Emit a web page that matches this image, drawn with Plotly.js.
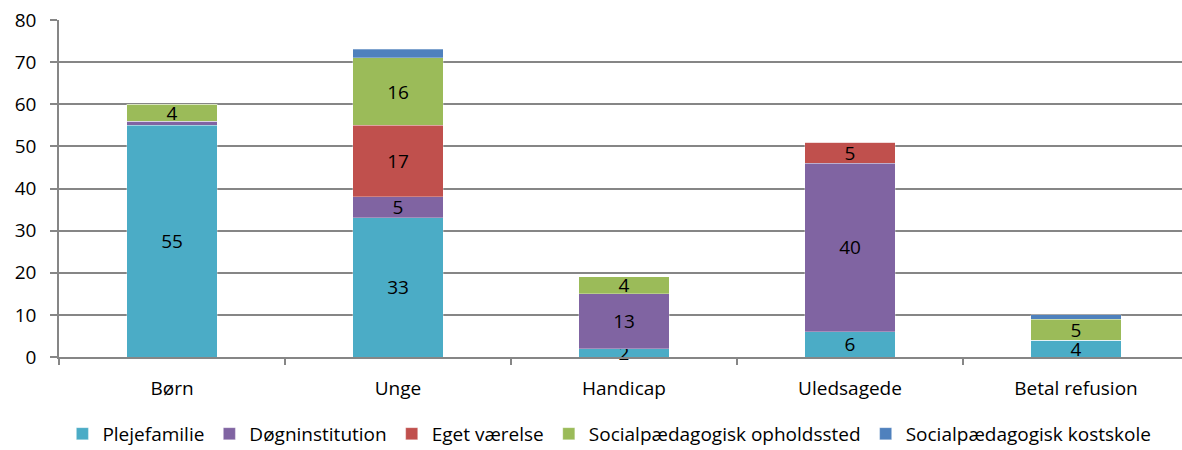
<!DOCTYPE html>
<html><head><meta charset="utf-8">
<script src="https://cdn.plot.ly/plotly-3.0.1.min.js"></script>
<style>html,body{margin:0;padding:0;overflow:hidden;background:#fff}</style>
</head><body><div id="chart"></div>
<script>
const categories = ["Børn", "Unge", "Handicap", "Uledsagede", "Betal refusion"];
const seriesNames = ["Plejefamilie", "Døgninstitution", "Eget værelse", "Socialpædagogisk opholdssted", "Socialpædagogisk kostskole"];
const plejefamilie = [55, 33, 2, 6, 4];
const dognInstitution = [1, 5, 13, 40, 0];
const egetVaerelse = [0, 17, 0, 5, 0];
const opholdssted = [4, 16, 4, 0, 5];
const kostskole = [0, 2, 0, 0, 1];
const colors = ["#4BACC6", "#8064A2", "#C0504D", "#9BBB59", "#4F81BD"];
const showLabels = [true, true, true, true, false];
const yTicks = [0, 10, 20, 30, 40, 50, 60, 70, 80];

const allSeries = [plejefamilie, dognInstitution, egetVaerelse, opholdssted, kostskole];
const font = "'Open Sans', sans-serif";
const traces = allSeries.map((vals, i) => ({
  type: 'bar',
  name: seriesNames[i],
  x: categories,
  y: vals,
  text: vals.map(v => (showLabels[i] && v >= 2) ? String(v) : ''),
  textposition: 'inside',
  insidetextanchor: 'middle',
  constraintext: 'none',
  cliponaxis: false,
  textangle: 0,
  textfont: {family: font, size: 19, color: '#000'},
  marker: {color: colors[i], line: {width: 0.8, color: 'rgba(255,255,255,0.35)'}},
  hoverinfo: 'x+y+name'
}));

const layout = {
  width: 1190, height: 450,
  margin: {l: 59, r: 1, t: 20, b: 93, autoexpand: false},
  barmode: 'stack',
  bargap: 0.6,
  paper_bgcolor: '#fff', plot_bgcolor: '#fff',
  font: {family: font, size: 19, color: '#000'},
  showlegend: true,
  legend: {orientation: 'h', x: 0.003, xanchor: 'left', y: -0.228, yanchor: 'middle',
    font: {family: font, size: 19, color: '#000'}, itemwidth: 30, traceorder: 'normal',
    bgcolor: 'rgba(0,0,0,0)'},
  xaxis: {
    type: 'category', range: [-0.5, 4.5], automargin: false,
    showline: true, linecolor: '#868686', linewidth: 1.5,
    ticks: 'outside', ticklen: 6, tickcolor: '#868686', tickwidth: 1.5,
    tickson: 'boundaries', showgrid: false, ticklabelstandoff: 13,
    tickfont: {family: font, size: 19, color: '#000'}
  },
  yaxis: {
    range: [0, 80], tickvals: yTicks, ticktext: yTicks.map(String), automargin: false,
    showline: true, linecolor: '#868686', linewidth: 1.5,
    ticks: 'outside', ticklen: 7, tickcolor: '#868686', tickwidth: 1.5,
    showgrid: true, gridcolor: '#868686', gridwidth: 1.5, zeroline: false,
    ticklabelstandoff: 10,
    tickfont: {family: font, size: 19, color: '#000'}
  }
};
Plotly.newPlot('chart', traces, layout, {displayModeBar: false});
</script></body></html>
